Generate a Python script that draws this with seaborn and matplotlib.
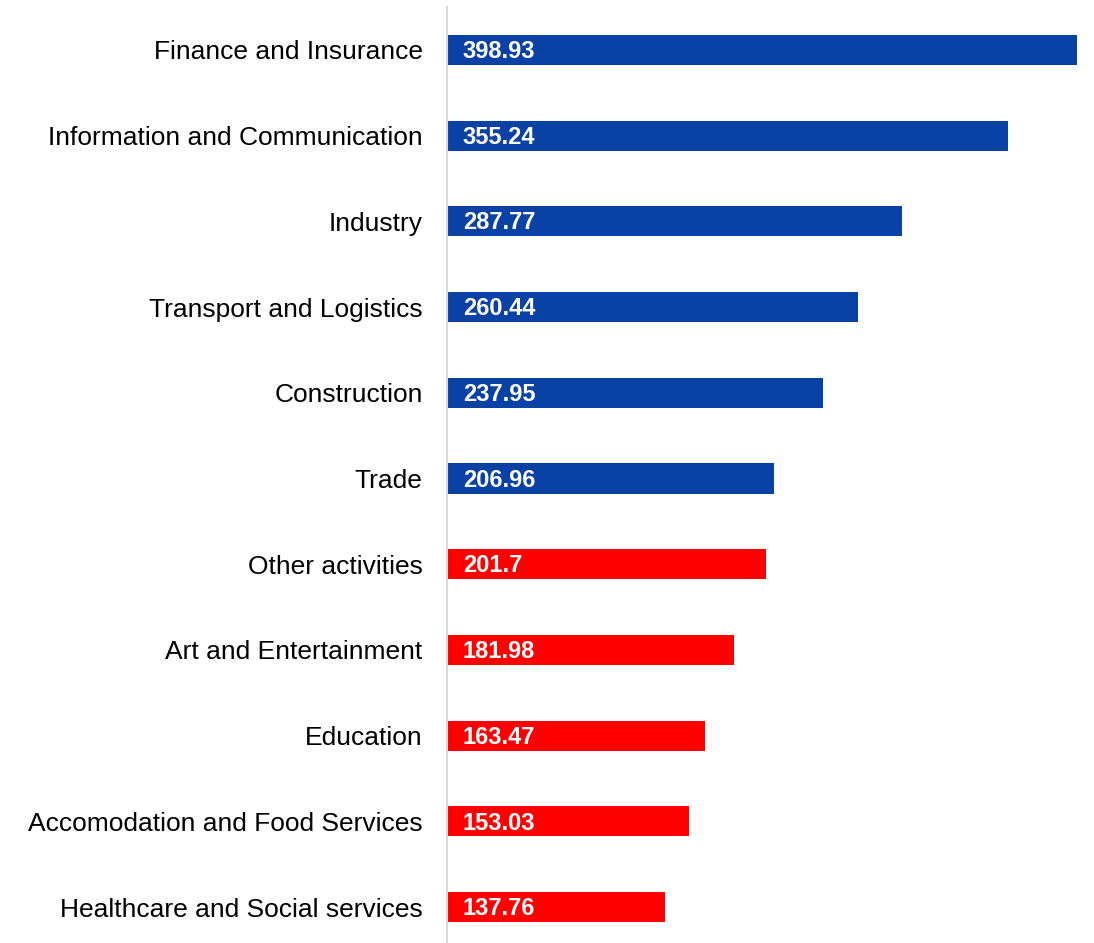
import numpy as np
import pandas as pd
import seaborn as sns
import matplotlib.pyplot as plt

sectors = ["Finance and Insurance", "Information and Communication", "Industry",
           "Transport and Logistics", "Construction", "Trade", "Other activities",
           "Art and Entertainment", "Education", "Accomodation and Food Services",
           "Healthcare and Social services"]
values = [398.93, 355.24, 287.77, 260.44, 237.95, 206.96, 201.7, 181.98, 163.47, 153.03, 137.76]
groups = ["high"] * 6 + ["low"] * 5
palette = {"high": "#0A41A5", "low": "#FF0000"}

df = pd.DataFrame({"sector": sectors, "value": values, "group": groups})

sns.set_style("white")
plt.rcParams['font.family'] = ['Liberation Sans', 'DejaVu Sans']

fig = plt.figure(figsize=(10.94, 9.43), dpi=100)
ax = fig.add_axes([447 / 1094, 0, (1080 - 447) / 1094, (943 - 7) / 943])

sns.barplot(data=df, x="value", y="sector", hue="group", palette=palette,
            dodge=False, width=0.35, legend=False, ax=ax, saturation=1,
            linewidth=0)

# value labels inside the bars
for i, v in enumerate(values):
    ax.text(10, i + 0.095, f"{v:g}", color="white", fontweight="bold", fontsize=17,
            va="baseline", ha="left")

ax.set_xlim(0, (1080 - 447) / 1.5795)
ax.set_ylim(10.5 - 7 / 85.7, -0.5)
ax.set_xlabel("")
ax.set_ylabel("")
ax.set_xticks([])
ax.tick_params(axis="y", length=0, pad=17.5, labelsize=19, labelcolor="black")
for s in ["top", "right", "bottom"]:
    ax.spines[s].set_visible(False)
ax.spines["left"].set_color("#D9D9D9")
ax.spines["left"].set_linewidth(1.5)

fig.savefig("out.png", dpi=100)
